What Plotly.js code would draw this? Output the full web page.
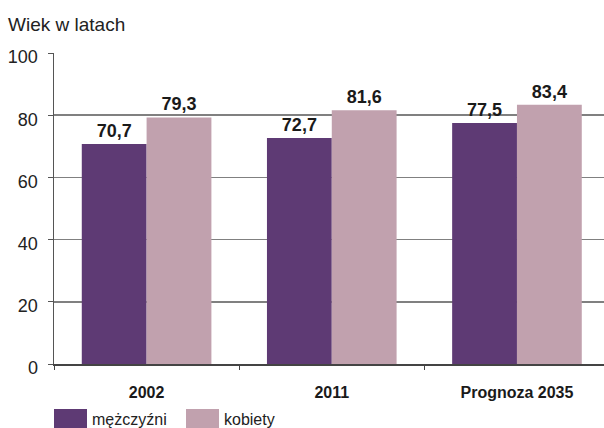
<!DOCTYPE html>
<html>
<head>
<meta charset="utf-8">
<script src="https://cdn.plot.ly/plotly-3.0.1.min.js"></script>
<style>html,body{margin:0;padding:0;background:#fff;} #chart{width:604px;height:428px;}</style>
</head>
<body>
<div id="chart"></div>
<script>
const categories = ["2002", "2011", "Prognoza 2035"];
const menValues = [70.7, 72.7, 77.5];
const womenValues = [79.3, 81.6, 83.4];
const seriesNames = ["mężczyźni", "kobiety"];
const yTicks = [0, 20, 40, 60, 80, 100];

const menColor = "#5E3A74";
const womenColor = "#C1A1AE";
const font = "Liberation Sans, Arial, sans-serif";

const traces = [
  {type: "bar", name: seriesNames[0], x: categories, y: menValues,
   marker: {color: menColor}, text: menValues, texttemplate: "%{y:.1f}",
   textposition: "outside", cliponaxis: false,
   textfont: {family: font, size: 18, color: "#1a1a1a", weight: "bold"}},
  {type: "bar", name: seriesNames[1], x: categories, y: womenValues,
   marker: {color: womenColor}, text: womenValues, texttemplate: "%{y:.1f}",
   textposition: "outside", cliponaxis: false,
   textfont: {family: font, size: 18, color: "#1a1a1a", weight: "bold"}}
];

const legendShapes = [];
const legendAnn = [];
const legendPos = [{x0: 54, x1: 87, tx: 90}, {x0: 186, x1: 219, tx: 222}];
seriesNames.forEach((n, i) => {
  legendShapes.push({type: "rect", xref: "paper", yref: "paper",
    x0: (legendPos[i].x0 - 54) / 550, x1: (legendPos[i].x1 - 54) / 550,
    y0: -(409 - 364) / 311, y1: -(428 - 364) / 311,
    fillcolor: i === 0 ? menColor : womenColor, line: {width: 0}});
  legendAnn.push({xref: "paper", yref: "paper",
    x: (legendPos[i].tx - 54) / 550, y: -(419 - 364) / 311,
    xanchor: "left", yanchor: "middle", showarrow: false, text: n,
    font: {family: font, size: 16, color: "#222"}});
});

const layout = {
  width: 604, height: 428,
  margin: {l: 54, r: 0, t: 53, b: 64, pad: 0},
  paper_bgcolor: "#fff", plot_bgcolor: "#fff",
  separators: ", ",
  showlegend: false,
  barmode: "group", bargap: 0.30, bargroupgap: 0,
  title: {text: "Wiek w latach", x: 8 / 604, xanchor: "left", xref: "container",
          y: 1 - 24 / 428, yanchor: "middle", yref: "container",
          font: {family: font, size: 19, color: "#222"}},
  xaxis: {type: "category", range: [-0.5, 2.47], showgrid: false,
          showline: true, linecolor: "#444", linewidth: 1.5,
          ticks: "outside", tickson: "boundaries", ticklen: 4, tickcolor: "#444",
          tickfont: {family: font, size: 16, color: "#1a1a1a", weight: "bold"},
          ticklabelstandoff: 13},
  yaxis: {range: [0, 100], tickvals: yTicks, showgrid: true,
          gridcolor: "#808080", gridwidth: 1.5,
          showline: true, linecolor: "#555", linewidth: 1.5,
          ticks: "outside", ticklen: 5, tickcolor: "#555",
          zeroline: false, ticklabelshift: 4, ticklabelstandoff: 6,
          tickfont: {family: font, size: 18, color: "#222"}},
  shapes: legendShapes,
  annotations: legendAnn
};

Plotly.newPlot("chart", traces, layout, {displayModeBar: false, staticPlot: true});
</script>
</body>
</html>
